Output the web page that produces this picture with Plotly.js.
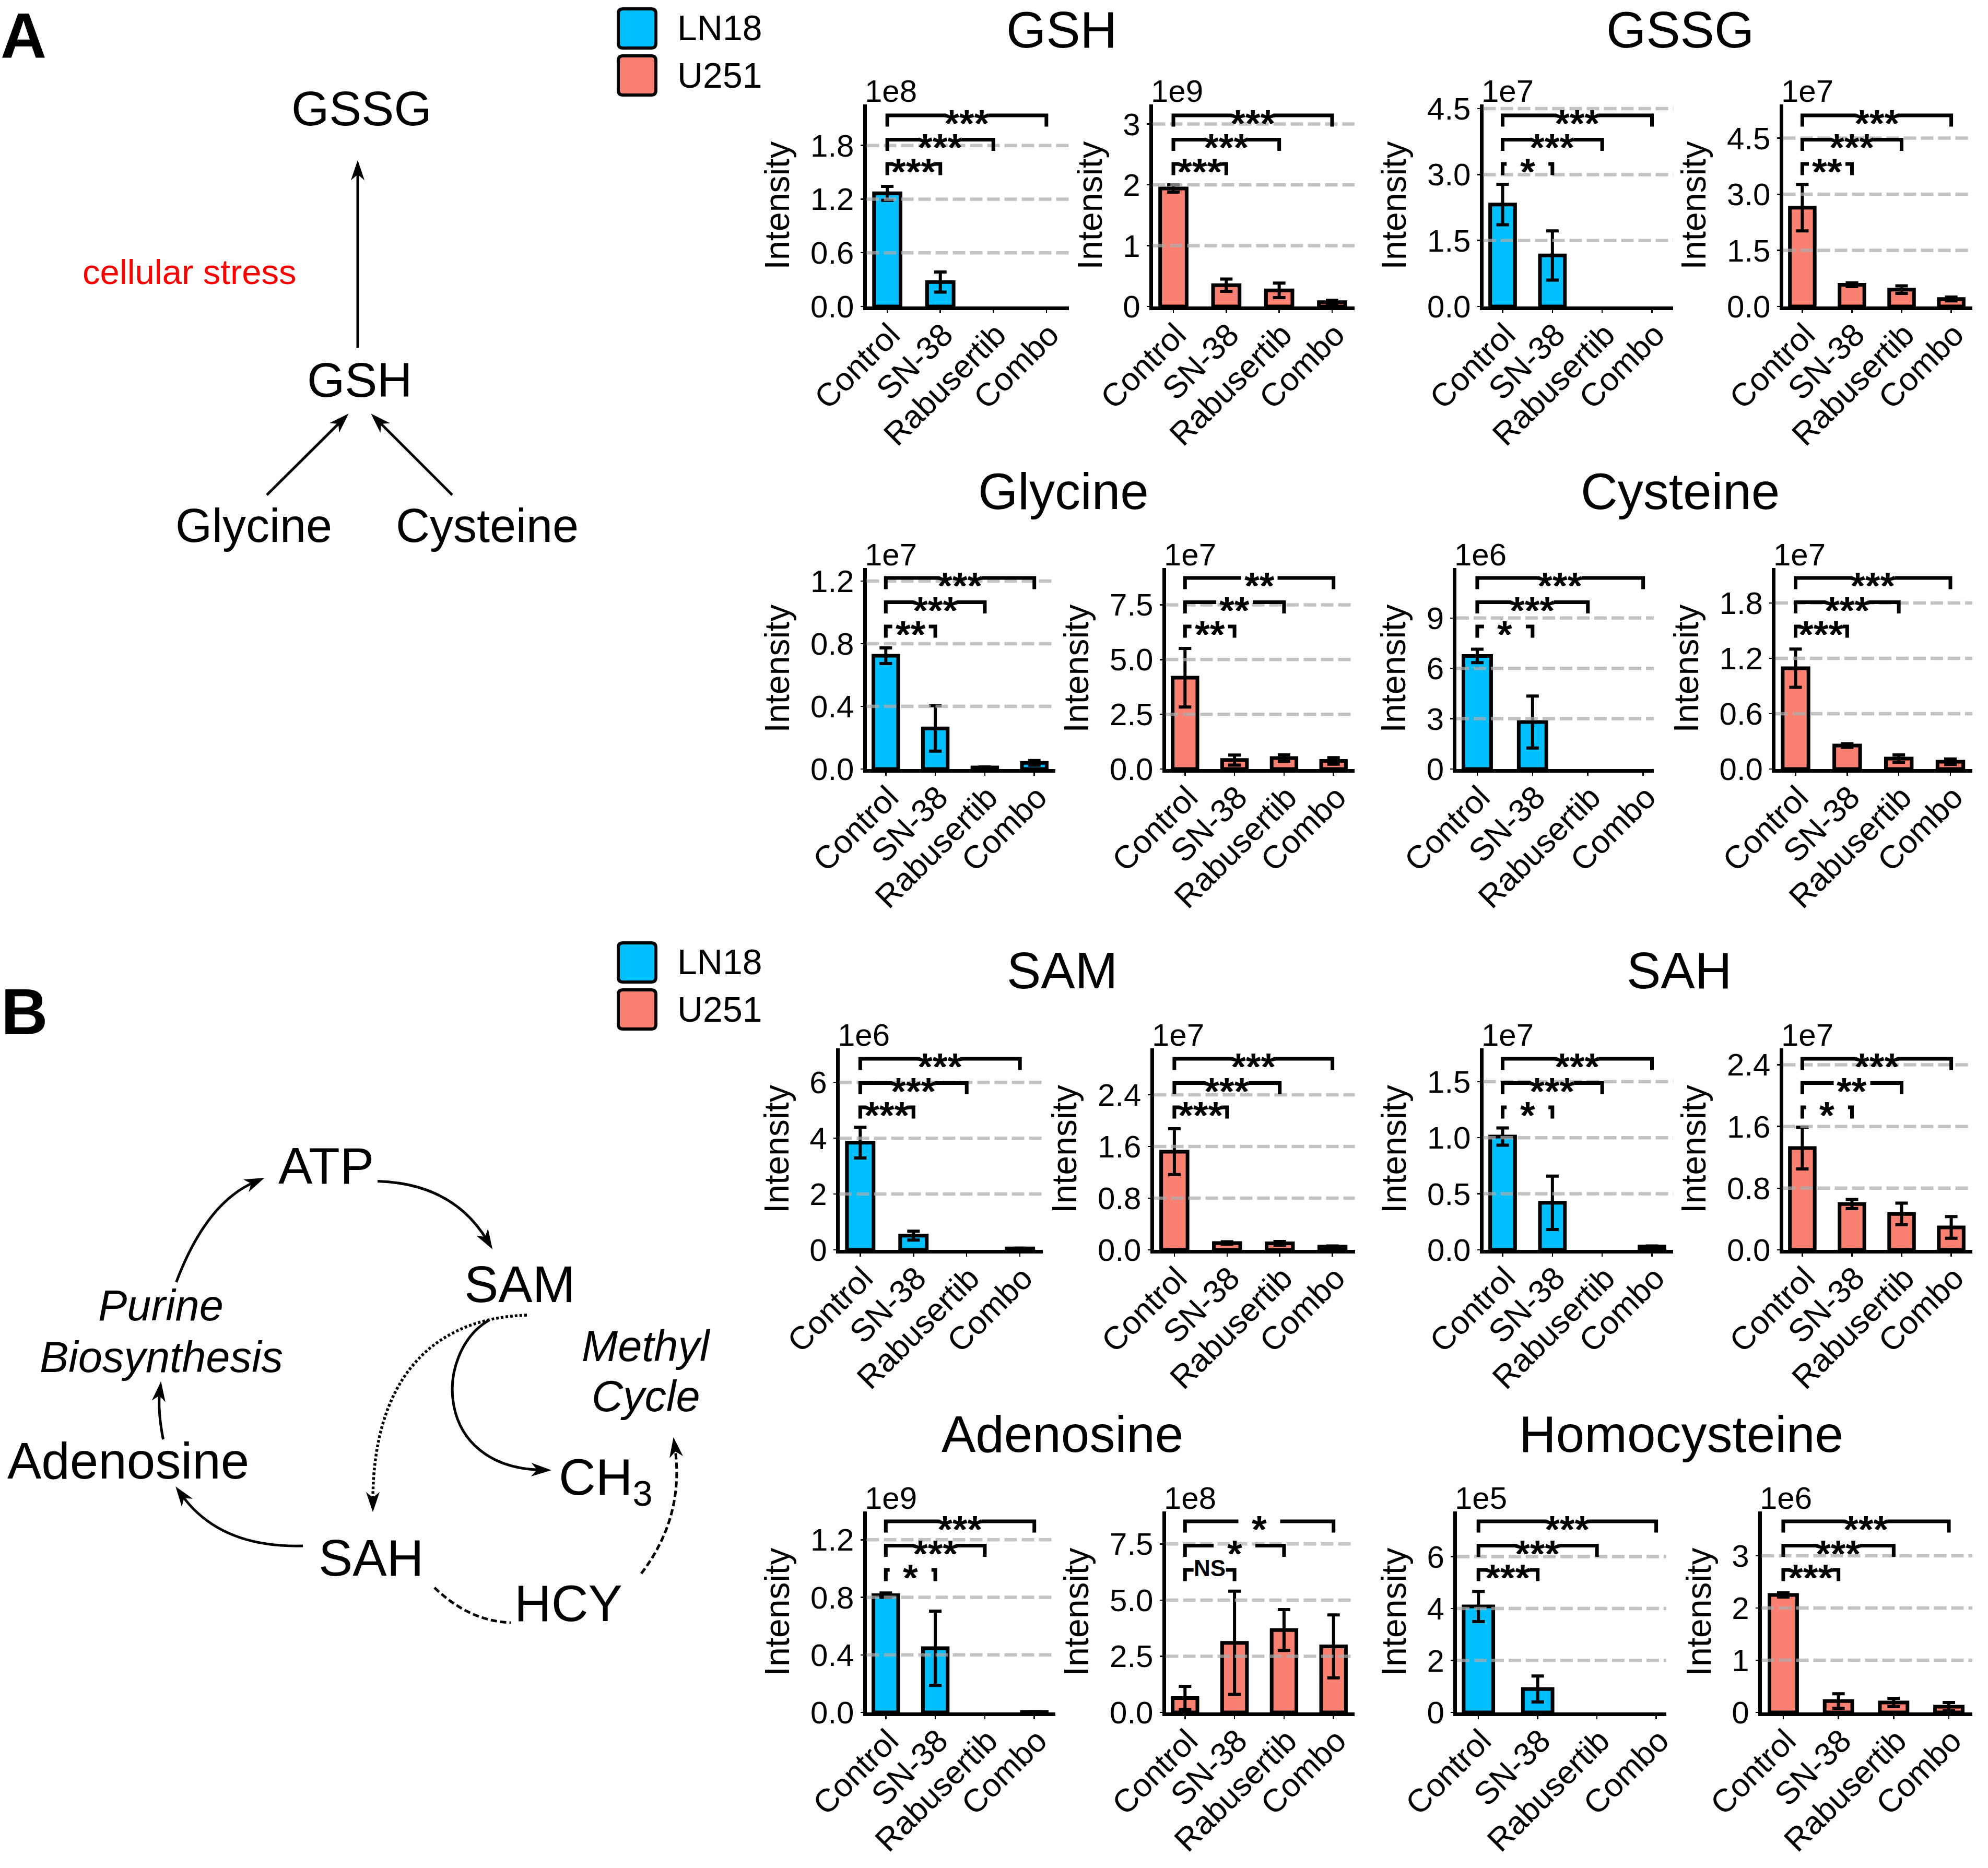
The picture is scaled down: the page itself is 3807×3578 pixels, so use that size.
<!DOCTYPE html>
<html><head><meta charset="utf-8">
<script src="https://cdn.plot.ly/plotly-3.0.1.min.js"></script>
<style>html,body{margin:0;padding:0;background:#fff;}#chart{width:3807px;height:3578px;}</style>
</head><body><div id="chart"></div>
<script>
// ---------------- DATA ----------------
const categories = ['Control', 'SN-38', 'Rabusertib', 'Combo'];
const cellLines = ['LN18', 'U251'];
const cellColors = ['#00BFFF', '#FA8072'];

const GSH_LN18 = [1.265, 0.273, 0, 0];
const GSH_LN18_err = [0.078, 0.112, null, null];
const GSH_U251 = [1.94, 0.35, 0.265, 0.07];
const GSH_U251_err = [0.06, 0.10, 0.12, 0.03];
const GSSG_LN18 = [2.32, 1.16, 0, 0];
const GSSG_LN18_err = [0.46, 0.56, null, null];
const GSSG_U251 = [2.64, 0.58, 0.45, 0.20];
const GSSG_U251_err = [0.62, 0.05, 0.10, 0.05];
const Glycine_LN18 = [0.723, 0.259, 0.01, 0.039];
const Glycine_LN18_err = [0.05, 0.145, 0.003, 0.015];
const Glycine_U251 = [4.17, 0.41, 0.50, 0.37];
const Glycine_U251_err = [1.34, 0.23, 0.15, 0.15];
const Cysteine_LN18 = [6.74, 2.80, 0, 0];
const Cysteine_LN18_err = [0.40, 1.55, null, null];
const Cysteine_U251 = [1.093, 0.255, 0.113, 0.079];
const Cysteine_U251_err = [0.207, 0.02, 0.04, 0.03];
const SAM_LN18 = [3.84, 0.51, 0, 0.05];
const SAM_LN18_err = [0.55, 0.16, null, 0.01];
const SAM_U251 = [1.52, 0.106, 0.10, 0.05];
const SAM_U251_err = [0.355, 0.02, 0.03, 0.01];
const SAH_LN18 = [1.01, 0.42, 0, 0.03];
const SAH_LN18_err = [0.077, 0.238, null, 0.005];
const SAH_U251 = [1.32, 0.594, 0.466, 0.291];
const SAH_U251_err = [0.27, 0.06, 0.14, 0.14];
const Adenosine_LN18 = [0.815, 0.446, 0, 0.004];
const Adenosine_LN18_err = [0.015, 0.258, null, 0.001];
const Adenosine_U251 = [0.64, 3.10, 3.67, 2.94];
const Adenosine_U251_err = [0.52, 2.30, 0.91, 1.40];
const Homocysteine_LN18 = [4.08, 0.90, 0, 0];
const Homocysteine_LN18_err = [0.58, 0.50, null, null];
const Homocysteine_U251 = [2.25, 0.217, 0.19, 0.11];
const Homocysteine_U251_err = [0.04, 0.14, 0.08, 0.08];

// significance (Control vs SN-38, Control vs Rabusertib, Control vs Combo)
const GSH_LN18_sig = ['***', '***', '***'];
const GSH_U251_sig = ['***', '***', '***'];
const GSSG_LN18_sig = ['*', '***', '***'];
const GSSG_U251_sig = ['**', '***', '***'];
const Glycine_LN18_sig = ['**', '***', '***'];
const Glycine_U251_sig = ['**', '**', '**'];
const Cysteine_LN18_sig = ['*', '***', '***'];
const Cysteine_U251_sig = ['***', '***', '***'];
const SAM_LN18_sig = ['***', '***', '***'];
const SAM_U251_sig = ['***', '***', '***'];
const SAH_LN18_sig = ['*', '***', '***'];
const SAH_U251_sig = ['*', '**', '***'];
const Adenosine_LN18_sig = ['*', '***', '***'];
const Adenosine_U251_sig = ['NS', '*', '*'];
const Homocysteine_LN18_sig = ['***', '***', '***'];
const Homocysteine_U251_sig = ['***', '***', '***'];

// y tick values / labels and scale labels
const GSH_LN18_ticks = [0, 0.6, 1.2, 1.8], GSH_LN18_tickText = ['0.0', '0.6', '1.2', '1.8'], GSH_LN18_scale = '1e8';
const GSH_U251_ticks = [0, 1, 2, 3], GSH_U251_tickText = ['0', '1', '2', '3'], GSH_U251_scale = '1e9';
const GSSG_LN18_ticks = [0, 1.5, 3, 4.5], GSSG_LN18_tickText = ['0.0', '1.5', '3.0', '4.5'], GSSG_LN18_scale = '1e7';
const GSSG_U251_ticks = [0, 1.5, 3, 4.5], GSSG_U251_tickText = ['0.0', '1.5', '3.0', '4.5'], GSSG_U251_scale = '1e7';
const Glycine_LN18_ticks = [0, 0.4, 0.8, 1.2], Glycine_LN18_tickText = ['0.0', '0.4', '0.8', '1.2'], Glycine_LN18_scale = '1e7';
const Glycine_U251_ticks = [0, 2.5, 5, 7.5], Glycine_U251_tickText = ['0.0', '2.5', '5.0', '7.5'], Glycine_U251_scale = '1e7';
const Cysteine_LN18_ticks = [0, 3, 6, 9], Cysteine_LN18_tickText = ['0', '3', '6', '9'], Cysteine_LN18_scale = '1e6';
const Cysteine_U251_ticks = [0, 0.6, 1.2, 1.8], Cysteine_U251_tickText = ['0.0', '0.6', '1.2', '1.8'], Cysteine_U251_scale = '1e7';
const SAM_LN18_ticks = [0, 2, 4, 6], SAM_LN18_tickText = ['0', '2', '4', '6'], SAM_LN18_scale = '1e6';
const SAM_U251_ticks = [0, 0.8, 1.6, 2.4], SAM_U251_tickText = ['0.0', '0.8', '1.6', '2.4'], SAM_U251_scale = '1e7';
const SAH_LN18_ticks = [0, 0.5, 1.0, 1.5], SAH_LN18_tickText = ['0.0', '0.5', '1.0', '1.5'], SAH_LN18_scale = '1e7';
const SAH_U251_ticks = [0, 0.8, 1.6, 2.4], SAH_U251_tickText = ['0.0', '0.8', '1.6', '2.4'], SAH_U251_scale = '1e7';
const Adenosine_LN18_ticks = [0, 0.4, 0.8, 1.2], Adenosine_LN18_tickText = ['0.0', '0.4', '0.8', '1.2'], Adenosine_LN18_scale = '1e9';
const Adenosine_U251_ticks = [0, 2.5, 5, 7.5], Adenosine_U251_tickText = ['0.0', '2.5', '5.0', '7.5'], Adenosine_U251_scale = '1e8';
const Homocysteine_LN18_ticks = [0, 2, 4, 6], Homocysteine_LN18_tickText = ['0', '2', '4', '6'], Homocysteine_LN18_scale = '1e5';
const Homocysteine_U251_ticks = [0, 1, 2, 3], Homocysteine_U251_tickText = ['0', '1', '2', '3'], Homocysteine_U251_scale = '1e6';

const metaboliteTitles = ['GSH', 'GSSG', 'Glycine', 'Cysteine', 'SAM', 'SAH', 'Adenosine', 'Homocysteine'];

// ---------------- LAYOUT GEOMETRY ----------------
const W = 3807, H = 3578;
const FONT = 'Liberation Sans, Arial, Helvetica, sans-serif';
const px = x => x / W;
const py = y => 1 - y / H;
const rowsPx = [{B: 590, T: 200}, {B: 1476, T: 1088}, {B: 2397, T: 2008}, {B: 3283, T: 2895}];
const STD = [-0.425, 3.425];

const panels = [
  {row: 0, cell: 0, L: 1656, R: 2047, xr: STD, yTop: 2.259, v: GSH_LN18, e: GSH_LN18_err, sig: GSH_LN18_sig, t: GSH_LN18_ticks, tt: GSH_LN18_tickText, sc: GSH_LN18_scale},
  {row: 0, cell: 1, L: 2204, R: 2594, xr: STD, yTop: 3.322, v: GSH_U251, e: GSH_U251_err, sig: GSH_U251_sig, t: GSH_U251_ticks, tt: GSH_U251_tickText, sc: GSH_U251_scale},
  {row: 0, cell: 0, L: 2837, R: 3204, xr: STD, yTop: 4.596, v: GSSG_LN18, e: GSSG_LN18_err, sig: GSSG_LN18_sig, t: GSSG_LN18_ticks, tt: GSSG_LN18_tickText, sc: GSSG_LN18_scale},
  {row: 0, cell: 1, L: 3411, R: 3777, xr: STD, yTop: 5.40, v: GSSG_U251, e: GSSG_U251_err, sig: GSSG_U251_sig, t: GSSG_U251_ticks, tt: GSSG_U251_tickText, sc: GSSG_U251_scale},
  {row: 1, cell: 0, L: 1656, R: 2021, xr: STD, yTop: 1.283, v: Glycine_LN18, e: Glycine_LN18_err, sig: Glycine_LN18_sig, t: Glycine_LN18_ticks, tt: Glycine_LN18_tickText, sc: Glycine_LN18_scale},
  {row: 1, cell: 1, L: 2229, R: 2594, xr: STD, yTop: 9.18, v: Glycine_U251, e: Glycine_U251_err, sig: Glycine_U251_sig, t: Glycine_U251_ticks, tt: Glycine_U251_tickText, sc: Glycine_U251_scale},
  {row: 1, cell: 0, L: 2785.5, R: 3167.3, xr: [-0.41, 3.195], yTop: 11.98, v: Cysteine_LN18, e: Cysteine_LN18_err, sig: Cysteine_LN18_sig, t: Cysteine_LN18_ticks, tt: Cysteine_LN18_tickText, sc: Cysteine_LN18_scale},
  {row: 1, cell: 1, L: 3396.5, R: 3777, xr: STD, yTop: 2.179, v: Cysteine_U251, e: Cysteine_U251_err, sig: Cysteine_U251_sig, t: Cysteine_U251_ticks, tt: Cysteine_U251_tickText, sc: Cysteine_U251_scale},
  {row: 2, cell: 0, L: 1604, R: 1996.5, xr: STD, yTop: 7.22, v: SAM_LN18, e: SAM_LN18_err, sig: SAM_LN18_sig, t: SAM_LN18_ticks, tt: SAM_LN18_tickText, sc: SAM_LN18_scale},
  {row: 2, cell: 1, L: 2206, R: 2594.5, xr: STD, yTop: 3.119, v: SAM_U251, e: SAM_U251_err, sig: SAM_U251_sig, t: SAM_U251_ticks, tt: SAM_U251_tickText, sc: SAM_U251_scale},
  {row: 2, cell: 0, L: 2837, R: 3204, xr: STD, yTop: 1.797, v: SAH_LN18, e: SAH_LN18_err, sig: SAH_LN18_sig, t: SAH_LN18_ticks, tt: SAH_LN18_tickText, sc: SAH_LN18_scale},
  {row: 2, cell: 1, L: 3411, R: 3777, xr: STD, yTop: 2.613, v: SAH_U251, e: SAH_U251_err, sig: SAH_U251_sig, t: SAH_U251_ticks, tt: SAH_U251_tickText, sc: SAH_U251_scale},
  {row: 3, cell: 0, L: 1656, R: 2021, xr: STD, yTop: 1.397, v: Adenosine_LN18, e: Adenosine_LN18_err, sig: Adenosine_LN18_sig, t: Adenosine_LN18_ticks, tt: Adenosine_LN18_tickText, sc: Adenosine_LN18_scale},
  {row: 3, cell: 1, L: 2229, R: 2594, xr: STD, yTop: 8.95, v: Adenosine_U251, e: Adenosine_U251_err, sig: Adenosine_U251_sig, t: Adenosine_U251_ticks, tt: Adenosine_U251_tickText, sc: Adenosine_U251_scale},
  {row: 3, cell: 0, L: 2786.4, R: 3190.9, xr: [-0.395, 3.17], yTop: 7.74, v: Homocysteine_LN18, e: Homocysteine_LN18_err, sig: Homocysteine_LN18_sig, t: Homocysteine_LN18_ticks, tt: Homocysteine_LN18_tickText, sc: Homocysteine_LN18_scale},
  {row: 3, cell: 1, L: 3370, R: 3777, xr: STD, yTop: 3.85, v: Homocysteine_U251, e: Homocysteine_U251_err, sig: Homocysteine_U251_sig, t: Homocysteine_U251_ticks, tt: Homocysteine_U251_tickText, sc: Homocysteine_U251_scale}
];

const titlePos = [[2033, null], [3217, null], [2036, 941], [3217, 941], [2034, 1859], [3216, 1859], [2034, 2747], [3219, 2747]];
const bracketOffsets = [276, 322.5, 369];
const bracketDrop = 21.5;
const gapPx = {'*': 80, '**': 70, '***': 82, 'NS': 62};

const traces = [];
const shapes = [];
const annotations = [];
const layout = {
  width: W, height: H, margin: {l: 0, r: 0, t: 0, b: 0},
  paper_bgcolor: '#ffffff', plot_bgcolor: 'rgba(0,0,0,0)',
  font: {family: FONT, color: '#000000', size: 60},
  showlegend: false
};

function txt(text, x, y, size, extra) {
  return Object.assign({
    xref: 'paper', yref: 'paper', x: px(x), y: py(y), text: text, showarrow: false,
    xanchor: 'center', yanchor: 'middle', font: {family: FONT, size: size, color: '#000000'}
  }, extra || {});
}

panels.forEach((p, i) => {
  const n = i + 1;
  const sfx = n === 1 ? '' : String(n);
  const xid = 'x' + sfx, yid = 'y' + sfx;
  const row = rowsPx[p.row];
  const s = (p.R - p.L) / (p.xr[1] - p.xr[0]);
  const Bp = row.B - 3;
  const hPx = Bp - row.T;

  layout['xaxis' + sfx] = {
    domain: [px(p.L + 3.5), px(p.R)], range: [p.xr[0] + 3.5 / s, p.xr[1]],
    type: 'category', categoryorder: 'array', categoryarray: categories,
    anchor: yid, showline: true, linecolor: '#000', linewidth: 7,
    ticks: 'outside', ticklen: 6, tickwidth: 2.5, tickcolor: '#000',
    tickangle: -45, tickfont: {family: FONT, size: 62, color: '#000'},
    ticklabelstandoff: -20, ticklabelshift: 6,
    showgrid: false, zeroline: false, fixedrange: true
  };
  layout['yaxis' + sfx] = {
    domain: [py(Bp), py(row.T)], range: [0, p.yTop], anchor: xid,
    tickmode: 'array', tickvals: p.t, ticktext: p.tt,
    showline: true, linecolor: '#000', linewidth: 7,
    ticks: 'outside', ticklen: 5, tickwidth: 2.5, tickcolor: '#000',
    tickfont: {family: FONT, size: 60, color: '#000'},
    showgrid: false, zeroline: false, fixedrange: true,
    title: {text: 'Intensity', font: {family: FONT, size: 66, color: '#000'}, standoff: 21}
  };

  traces.push({
    type: 'bar', x: categories, y: p.v, xaxis: xid, yaxis: yid, width: 0.5,
    name: cellLines[p.cell],
    marker: {color: cellColors[p.cell], line: {color: '#000', width: p.v.map(v => v > 0 ? 7 : 0)}},
    error_y: {type: 'data', symmetric: true, array: p.e.map(e => e == null ? NaN : e), visible: true,
              color: '#000', thickness: 6, width: 12},
    showlegend: false, hoverinfo: 'skip'
  });

  // dashed gridlines drawn above the bars (as in the reference)
  p.t.filter(v => v > 0 && v < p.yTop).forEach(v => {
    shapes.push({type: 'line', xref: xid + ' domain', x0: 0, x1: 1, yref: yid, y0: v, y1: v,
                 line: {color: 'rgba(172,172,172,0.72)', width: 6.5, dash: '24px,9px'}, layer: 'above'});
  });

  // significance brackets
  p.sig.forEach((label, j) => {
    const off = bracketOffsets[j];
    const fy = (off - 3) / hPx;
    const fd = (off - 3 - bracketDrop) / hPx;
    const x0 = 0, x1 = j + 1, xm = (x0 + x1) / 2;
    const g = gapPx[label] / 2 / s;
    const path = 'M' + x0 + ',' + fd.toFixed(5) + ' L' + x0 + ',' + fy.toFixed(5) + ' L' + (xm - g).toFixed(5) + ',' + fy.toFixed(5) +
                 ' M' + (xm + g).toFixed(5) + ',' + fy.toFixed(5) + ' L' + x1 + ',' + fy.toFixed(5) + ' L' + x1 + ',' + fd.toFixed(5);
    shapes.push({type: 'path', xref: xid, yref: yid + ' domain', path: path,
                 line: {color: '#000', width: 7}, layer: 'above'});
    const isNS = label === 'NS';
    annotations.push({xref: xid, yref: yid + ' domain', x: xm, y: fy, text: '<b>' + label + '</b>',
                      showarrow: false, xanchor: 'center', yanchor: 'middle',
                      height: 42, valign: isNS ? 'middle' : 'top', borderpad: 0, borderwidth: 0,
                      yshift: isNS ? 4 : 5,
                      font: {family: FONT, size: isNS ? 44 : 74, color: '#000'}});
  });

  // scale (offset) label
  annotations.push({xref: xid + ' domain', yref: yid + ' domain', x: 0, y: 1, xanchor: 'left', yanchor: 'bottom',
                    xshift: -6, yshift: -10, text: p.sc, showarrow: false,
                    font: {family: FONT, size: 60, color: '#000'}});
});

// metabolite titles
metaboliteTitles.forEach((t, i) => {
  if (titlePos[i][1] === null) {
    annotations.push(txt(t, titlePos[i][0], 0, 98, {yanchor: 'top'}));
  } else {
    annotations.push(txt(t, titlePos[i][0], titlePos[i][1], 98));
  }
});

// legends
function roundRect(x0, y0, x1, y1, r) {
  const P = (x, y) => px(x).toFixed(6) + ',' + py(y).toFixed(6);
  return 'M' + P(x0 + r, y0) + ' L' + P(x1 - r, y0) + ' Q' + P(x1, y0) + ' ' + P(x1, y0 + r) +
         ' L' + P(x1, y1 - r) + ' Q' + P(x1, y1) + ' ' + P(x1 - r, y1) +
         ' L' + P(x0 + r, y1) + ' Q' + P(x0, y1) + ' ' + P(x0, y1 - r) +
         ' L' + P(x0, y0 + r) + ' Q' + P(x0, y0) + ' ' + P(x0 + r, y0) + ' Z';
}
[[17, 107], [1806, 1896]].forEach(tops => {
  tops.forEach((top, k) => {
    shapes.push({type: 'path', xref: 'paper', yref: 'paper', path: roundRect(1184, top, 1256, top + 75, 9),
                 fillcolor: cellColors[k], line: {color: '#000', width: 6}, layer: 'above'});
    annotations.push(txt(cellLines[k], 1295, top + 36.5, 68, {xanchor: 'left'}));
  });
});

// ---------------- PATHWAY DIAGRAMS ----------------
const P = (x, y) => px(x).toFixed(6) + ',' + py(y).toFixed(6);
function head(tip, dir, len, wid) {
  const d = Math.hypot(dir[0], dir[1]);
  const ux = dir[0] / d, uy = dir[1] / d, nx = -uy, ny = ux;
  const bx = tip[0] - len * ux, by = tip[1] - len * uy;
  const path = 'M' + P(tip[0], tip[1]) + ' L' + P(bx + wid / 2 * nx, by + wid / 2 * ny) +
               ' L' + P(tip[0] - 0.72 * len * ux, tip[1] - 0.72 * len * uy) +
               ' L' + P(bx - wid / 2 * nx, by - wid / 2 * ny) + ' Z';
  shapes.push({type: 'path', xref: 'paper', yref: 'paper', path: path, fillcolor: '#000',
               line: {color: '#000', width: 1.5}, layer: 'above'});
}
function straightArrow(a, b, len, wid) {
  const dir = [b[0] - a[0], b[1] - a[1]];
  const d = Math.hypot(dir[0], dir[1]);
  const e = [b[0] - dir[0] / d * len * 0.6, b[1] - dir[1] / d * len * 0.6];
  shapes.push({type: 'path', xref: 'paper', yref: 'paper', path: 'M' + P(a[0], a[1]) + ' L' + P(e[0], e[1]),
               line: {color: '#000', width: 5}, layer: 'above'});
  head(b, dir, len, wid);
}
// quadratic through mid-point m at t=0.5
function quadArrow(a, m, b, opts) {
  const c = [2 * m[0] - (a[0] + b[0]) / 2, 2 * m[1] - (a[1] + b[1]) / 2];
  const dir = [b[0] - c[0], b[1] - c[1]];
  const d = Math.hypot(dir[0], dir[1]);
  const cut = opts.head ? 18 : 0;
  const e = [b[0] - dir[0] / d * cut, b[1] - dir[1] / d * cut];
  shapes.push({type: 'path', xref: 'paper', yref: 'paper',
               path: 'M' + P(a[0], a[1]) + ' Q' + P(c[0], c[1]) + ' ' + P(e[0], e[1]),
               line: {color: '#000', width: opts.width || 5, dash: opts.dash || 'solid'}, layer: 'above'});
  if (opts.head) head(b, dir, 34, 23);
}
function cubicArrow(a, c1, c2, b, opts) {
  const dir = [b[0] - c2[0], b[1] - c2[1]];
  const d = Math.hypot(dir[0], dir[1]);
  const e = [b[0] - dir[0] / d * 18, b[1] - dir[1] / d * 18];
  shapes.push({type: 'path', xref: 'paper', yref: 'paper',
               path: 'M' + P(a[0], a[1]) + ' C' + P(c1[0], c1[1]) + ' ' + P(c2[0], c2[1]) + ' ' + P(e[0], e[1]),
               line: {color: '#000', width: opts.width || 5, dash: opts.dash || 'solid'}, layer: 'above'});
  head(b, dir, 34, 23);
}

// Panel A
straightArrow([685, 666], [685, 309], 34, 23);
straightArrow([511, 948], [666, 794], 34, 23);
straightArrow([866, 948], [712, 794], 34, 23);
// Panel B
quadArrow([337.5, 2456], [408, 2330], [504.5, 2257], {head: true});
quadArrow([723, 2262.5], [850, 2297], [942, 2391], {head: true});
cubicArrow([937.5, 2528], [830, 2590], [830, 2810], [1053.6, 2816], {});
cubicArrow([1009, 2519], [820, 2525], [714, 2650], [714, 2894], {dash: '5px,4px', width: 5.5});
quadArrow([312.5, 2757], [306, 2702], [308, 2648], {head: true});
quadArrow([580, 2961], [440, 2935], [337.5, 2849], {head: true});
quadArrow([832, 3041], [902, 3090], [978, 3108], {head: false, dash: '12px,6px', width: 5});
quadArrow([1228, 3014], [1285, 2895], [1290, 2755], {head: true, dash: '12px,6px', width: 5});

const diagramTexts = [
  ['<b>A</b>', 0, 0, 122, {xanchor: 'left', yanchor: 'top', borderpad: 0}],
  ['<b>B</b>', 0, 1938, 124, {xanchor: 'left'}],
  ['GSSG', 692.5, 208, 93],
  ['GSH', 689, 728, 93],
  ['Glycine', 486, 1007, 90],
  ['Cysteine', 933, 1007, 90],
  ['cellular stress', 363, 520, 67, {font: {family: FONT, size: 67, color: '#ff0000'}}],
  ['ATP', 624, 2233, 98],
  ['SAM', 994.5, 2460, 98],
  ['Adenosine', 245.5, 2798, 98],
  ['SAH', 711, 2984, 98],
  ['HCY', 1088.5, 3071, 98],
  ['CH<sub>3</sub>', 1160, 2836, 98],
  ['<i>Purine</i>', 308, 2500, 83],
  ['<i>Biosynthesis</i>', 309, 2599, 83],
  ['<i>Methyl</i>', 1237, 2578, 83],
  ['<i>Cycle</i>', 1237, 2674, 83]
];
diagramTexts.forEach(d => annotations.push(txt(d[0], d[1], d[2], d[3], d[4])));

layout.shapes = shapes;
layout.annotations = annotations;

Plotly.newPlot('chart', traces, layout, {staticPlot: true, displayModeBar: false, responsive: false});
</script>
</body></html>
